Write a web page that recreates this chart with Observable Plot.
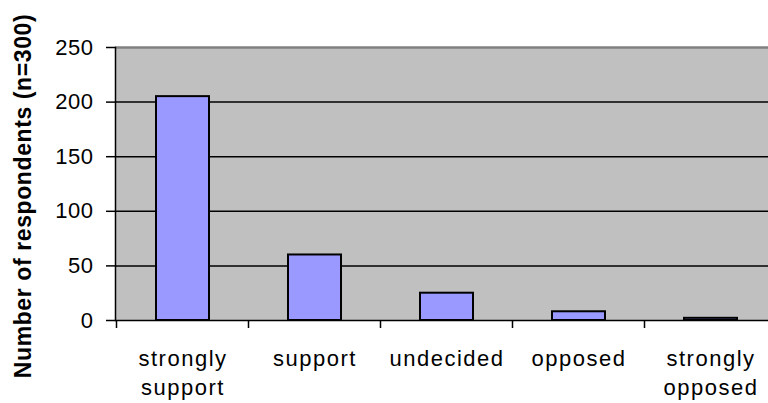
<!DOCTYPE html>
<html>
<head>
<meta charset="utf-8">
<script src="https://cdn.jsdelivr.net/npm/d3@7"></script>
<script src="https://cdn.jsdelivr.net/npm/@observablehq/plot@0.6"></script>
<style>
  html, body { margin: 0; padding: 0; background: #fff; overflow: hidden; }
  #chart svg { display: block; }
  #chart g[aria-label="y-axis tick label"] { letter-spacing: 0.5px; }
  #chart g[aria-label="x-axis tick label"] { letter-spacing: 1.5px; }
  #chart g[aria-label="text"] { letter-spacing: 0.6px; }
</style>
</head>
<body>
<div id="chart"></div>
<script>
// Survey responses
const categories = ["strongly support", "support", "undecided", "opposed", "strongly opposed"];
const categoryLabels = ["strongly\nsupport", "support", "undecided", "opposed", "strongly\nopposed"];
const respondents = [205, 60, 25, 8, 2];
const yTicks = [0, 50, 100, 150, 200, 250];
const gridValues = [50, 100, 150, 200];
const yTitle = "Number of respondents (n=300)";

const rows = categories.map((c, i) => ({category: c, count: respondents[i]}));
const labelOf = new Map(categories.map((c, i) => [c, categoryLabels[i]]));

// Short tick marks below the baseline at the edges of each category band
function bandEdgeTicks(index, scales) {
  const x = scales.x;
  const desc = scales.scales && scales.scales.x;
  const bw = typeof x.bandwidth === "function" ? x.bandwidth() : desc.bandwidth;
  const step = typeof x.step === "function" ? x.step() : desc.step;
  const y0 = scales.y(0);
  const g = d3.create("svg:g").attr("stroke", "black").attr("stroke-width", 1.5);
  const edges = categories.map(c => x(c) + bw / 2 - step / 2);
  edges.push(x(categories[categories.length - 1]) + bw / 2 + step / 2);
  for (const e of edges) {
    g.append("line").attr("x1", e).attr("x2", e).attr("y1", y0).attr("y2", y0 + 8);
  }
  return g.node();
}

const chart = Plot.plot({
  width: 768,
  height: 403,
  marginLeft: 115,
  marginTop: 47,
  marginBottom: 83,
  marginRight: -9.5,
  style: {fontFamily: "'Liberation Sans', Arial, sans-serif", color: "black"},
  x: {domain: categories, paddingInner: 0.6, paddingOuter: 0.3, axis: null},
  y: {domain: [0, 250], axis: null},
  marks: [
    Plot.frame({fill: "#c0c0c0", stroke: null}),
    Plot.ruleY(gridValues, {stroke: "black", strokeWidth: 1.5}),
    Plot.ruleY([250], {stroke: "#808080", strokeWidth: 2.5}),
    Plot.barY(rows, {x: "category", y: "count", fill: "#9999ff", stroke: "black", strokeWidth: 2}),
    Plot.ruleY([0], {stroke: "black", strokeWidth: 1.5}),
    Plot.frame({anchor: "left", stroke: "black", strokeWidth: 1.5}),
    bandEdgeTicks,
    Plot.axisY({ticks: yTicks, tickSize: 9, tickPadding: 13, label: null, fontSize: 22, stroke: "black", strokeWidth: 1.5, strokeOpacity: 1}),
    Plot.axisX({tickSize: 0, tickPadding: 25, tickFormat: c => labelOf.get(c), label: null, fontSize: 22, lineHeight: 1.32}),
    Plot.text([yTitle], {frameAnchor: "left", dx: -92, dy: 12, rotate: -90, fontSize: 23, fontWeight: "bold", textAnchor: "middle", fill: "black"})
  ]
});

document.getElementById("chart").appendChild(chart);
</script>
</body>
</html>
